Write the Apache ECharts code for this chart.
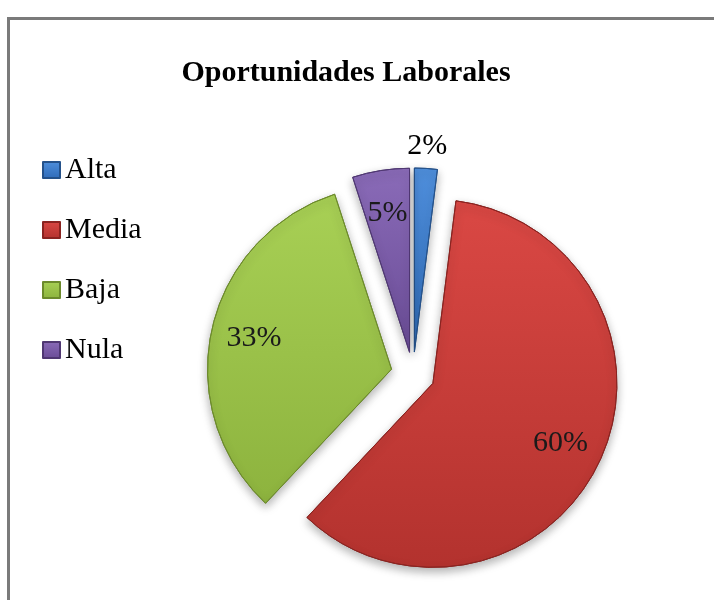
<!DOCTYPE html>
<html>
<head>
<meta charset="utf-8">
<script src="https://cdn.jsdelivr.net/npm/echarts@6/dist/echarts.min.js"></script>
<style>
  html, body { margin: 0; padding: 0; background: #fff; }
  #frame { position: absolute; left: 7px; top: 17px; width: 760px; height: 640px;
           border-left: 3px solid #7a7a7a; border-top: 3px solid #7a7a7a; }
  #main { position: absolute; left: 0; top: 0; width: 714px; height: 600px; }
</style>
</head>
<body>
<div id="frame"></div>
<div id="main"></div>
<script>
// datos del grafico
var categorias = ['Alta', 'Media', 'Baja', 'Nula'];
var porcentajes = [2, 60, 33, 5];
var colores = [
  ['#4f8fdc', '#2f6bb8'],
  ['#da4844', '#b3322e'],
  ['#a8d055', '#8db33e'],
  ['#8a6bb8', '#6a4c96']
];
var bordes = ['#24518a', '#8a2320', '#6c8a2c', '#4f3772'];

var centro = [413, 374];
var radio = 184;
var separacion = 22;

var myChart = echarts.init(document.getElementById('main'));

var datosPie = [];
var datosEtiquetas = [];
for (var i = 0; i < categorias.length; i++) {
  datosPie.push({
    name: categorias[i],
    value: porcentajes[i],
    selected: true,
    itemStyle: {
      color: {
        type: 'linear', x: 0, y: 0, x2: 0, y2: 1,
        colorStops: [{ offset: 0, color: colores[i][0] }, { offset: 1, color: colores[i][1] }]
      },
      borderColor: bordes[i]
    },
    // solo "Alta" lleva la etiqueta por fuera
    label: { show: i === 0 }
  });
  datosEtiquetas.push({
    name: categorias[i],
    value: porcentajes[i],
    selected: true,
    label: { show: i !== 0 }
  });
}

var option = {
  title: {
    text: 'Oportunidades Laborales',
    left: 341,
    top: 53,
    textAlign: 'center',
    textStyle: {
      fontFamily: 'Liberation Serif',
      fontWeight: 'bold',
      fontSize: 30,
      color: '#000'
    }
  },
  legend: {
    orient: 'vertical',
    left: 37,
    top: 150,
    itemWidth: 17,
    itemHeight: 16,
    itemGap: 30,
    icon: 'rect',
    selectedMode: false,
    data: categorias,
    textStyle: {
      fontFamily: 'Liberation Serif',
      fontSize: 30,
      color: '#000'
    }
  },
  series: [
    {
      name: 'Oportunidades',
      type: 'pie',
      center: centro,
      radius: [0, radio],
      startAngle: 90,
      clockwise: true,
      selectedMode: 'multiple',
      selectedOffset: separacion,
      avoidLabelOverlap: false,
      silent: true,
      itemStyle: {
        borderWidth: 1,
        shadowBlur: 10,
        shadowOffsetY: 4,
        shadowColor: 'rgba(0,0,0,0.3)'
      },
      label: {
        position: 'outside',
        formatter: '{c}%',
        fontFamily: 'Liberation Serif',
        fontSize: 30,
        color: '#000',
        distanceToLabelLine: 0
      },
      labelLine: { show: false, length: 22, length2: 0 },
      labelLayout: function () {
        return { align: 'center' };
      },
      data: datosPie
    },
    {
      // serie invisible solo para colocar las etiquetas interiores
      name: 'Etiquetas',
      type: 'pie',
      center: centro,
      radius: [0, radio * 1.5],
      startAngle: 90,
      clockwise: true,
      selectedMode: 'multiple',
      selectedOffset: separacion,
      silent: true,
      z: 5,
      itemStyle: { color: 'rgba(0,0,0,0)' },
      label: {
        position: 'inside',
        formatter: '{c}%',
        fontFamily: 'Liberation Serif',
        fontSize: 30,
        color: '#1a1a1a'
      },
      labelLine: { show: false },
      data: datosEtiquetas
    }
  ]
};
myChart.setOption(option);
</script>
</body>
</html>
